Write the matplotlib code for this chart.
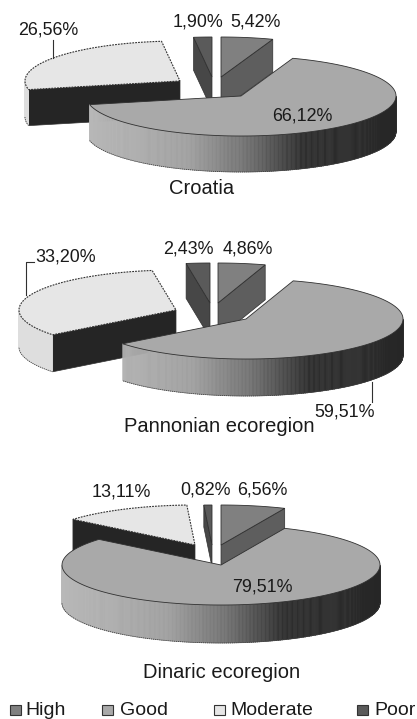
import numpy as np
import matplotlib
matplotlib.use("Agg")
import matplotlib.pyplot as plt
from matplotlib.collections import PolyCollection
from matplotlib.colors import LinearSegmentedColormap
from matplotlib.patches import Polygon, Rectangle

categories = ["High", "Good", "Moderate", "Poor"]
croatia = [5.42, 66.12, 26.56, 1.90]
pannonian = [4.86, 59.51, 33.20, 2.43]
dinaric = [6.56, 79.51, 13.11, 0.82]
pie_titles = ["Croatia", "Pannonian ecoregion", "Dinaric ecoregion"]

plt.rcParams["font.family"] = ["Liberation Sans", "DejaVu Sans"]
fig = plt.figure(figsize=(4.17, 7.19), dpi=100)
ax = fig.add_axes([0, 0, 1, 1])
ax.set_xlim(0, 417)
ax.set_ylim(719, 0)
ax.axis("off")

TOP = {"High": "#808080", "Good": "#a9a9a9", "Moderate": "#e6e6e6", "Poor": "#5a5a5a"}
FACE = {"High": "#5e5e5e", "Good": "#707070", "Moderate": "#252525", "Poor": "#474747"}
WALL = {"High": "#5e5e5e", "Moderate": "#dedede", "Poor": "#474747"}
wall_cmap = LinearSegmentedColormap.from_list(
    "wall", [(0, "#b8b8b8"), (.33, "#a0a0a0"), (.52, "#707070"), (.70, "#2e2e2e"), (1, "#262626")])

LAYOUTS = [
    dict(rx=155, ry=40, centers={"High": (221, 77, 33), "Good": (241, 96, 36),
                                 "Moderate": (180, 81, 36), "Poor": (212, 77, 33)}),
    dict(rx=157, ry=40, centers={"High": (218, 303, 35), "Good": (246, 319, 37),
                                 "Moderate": (176, 310, 37), "Poor": (210, 303, 35)}),
    dict(rx=159, ry=40, centers={"High": (221, 545, 22), "Good": (221, 565, 38),
                                 "Moderate": (195, 545, 37), "Poor": (212, 545, 22)}),
]


def point(c, rx, ry, deg):
    t = np.radians(deg)
    return np.column_stack([c[0] + rx * np.sin(t), c[1] - ry * np.cos(t)])


def draw_slice(name, start, end, layout, z):
    rx, ry = layout["rx"], layout["ry"]
    cx, cy, h = layout["centers"][name]
    c = (cx, cy)
    angles = np.linspace(start, end, max(int((end - start) * 2), 2) + 1)
    arc = point(c, rx, ry, angles)
    apex = np.array([[cx, cy]])
    shift = np.array([0, h])
    edge = dict(edgecolor="#303030", linewidth=0.5)

    def face(deg):
        p = point(c, rx, ry, [deg])
        q = np.vstack([apex, p, p + shift, apex + shift])
        ax.add_patch(Polygon(q, closed=True, facecolor=FACE[name], zorder=z, **edge))

    if np.sin(np.radians(start)) < -1e-6:
        face(start)
    if np.sin(np.radians(end)) > 1e-6:
        face(end)

    lo, hi = max(start, 90), min(end, 270)
    if lo < hi:
        wall_angles = np.linspace(lo, hi, int(hi - lo) * 2 + 1)
        top = point(c, rx, ry, wall_angles)
        low = top + shift
        quads = [[top[i], top[i + 1], low[i + 1], low[i]] for i in range(len(top) - 1)]
        if name == "Good":
            t = 0.5 + (top[:-1, 0] + top[1:, 0] - 2 * cx) / (4 * rx)
            colors = wall_cmap(t)
            ax.add_collection(PolyCollection(quads, facecolors=colors, edgecolors=colors,
                                             linewidths=0.4, zorder=z))
        else:
            ax.add_collection(PolyCollection(quads, facecolors=WALL[name], edgecolors=WALL[name],
                                             linewidths=0.4, zorder=z))
        ax.plot(low[:, 0], low[:, 1], color="#404040", lw=0.6, ls=(0, (1.5, 1)), zorder=z + .1)

    poly = np.vstack([apex, arc])
    dashed = name == "Moderate"
    ax.add_patch(Polygon(poly, closed=True, facecolor=TOP[name], edgecolor="#303030",
                         linewidth=0.8 if dashed else 0.6,
                         linestyle=(0, (1.6, 1)) if dashed else "-", zorder=z + .2))


for values, layout in zip([croatia, pannonian, dinaric], LAYOUTS):
    shares = np.array(values) / sum(values) * 360
    edges = np.concatenate([[0], np.cumsum(shares)])
    spans = {n: (edges[i], edges[i + 1]) for i, n in enumerate(categories)}
    for z, n in enumerate(["Moderate", "Poor", "High", "Good"]):
        draw_slice(n, *spans[n], layout, 2 + z)


def pct(v):
    return f"{v:.2f}%".replace(".", ",")


LABEL_POS = [
    {"High": (256, 22), "Good": (302, 116), "Moderate": (48, 30), "Poor": (198, 22)},
    {"High": (248, 249), "Good": (345, 412), "Moderate": (66, 257), "Poor": (188, 249)},
    {"High": (262, 490), "Good": (262, 587), "Moderate": (121, 492), "Poor": (206, 490)},
]
for values, pos in zip([croatia, pannonian, dinaric], LABEL_POS):
    for n, v in zip(categories, values):
        x, y = pos[n]
        ax.text(x, y, pct(v), ha="center", va="center", fontsize=12.9, color="#1a1a1a", zorder=10)

for title, (x, y) in zip(pie_titles, [(202, 189), (219, 427), (222, 672)]):
    ax.text(x, y, title, ha="center", va="center", fontsize=14.5, color="#1a1a1a", zorder=10)

# leader lines
for xs, ys in [([53, 53], [40, 58]), ([34, 26, 26], [262, 262, 295]), ([372, 372], [382, 402])]:
    ax.plot(xs, ys, color="#303030", lw=0.8, zorder=9)

# legend
legend_x = {"High": (10, 25), "Good": (102, 120), "Moderate": (214, 230), "Poor": (357, 374)}
for n in categories:
    bx, tx = legend_x[n]
    ax.add_patch(Rectangle((bx, 705), 11, 10, facecolor=TOP[n], edgecolor="#333333", linewidth=0.8, zorder=10))
    ax.text(tx, 710.5, n, ha="left", va="center", fontsize=14, color="#1a1a1a", zorder=10)

fig.savefig("out.png", dpi=100, facecolor="white")
